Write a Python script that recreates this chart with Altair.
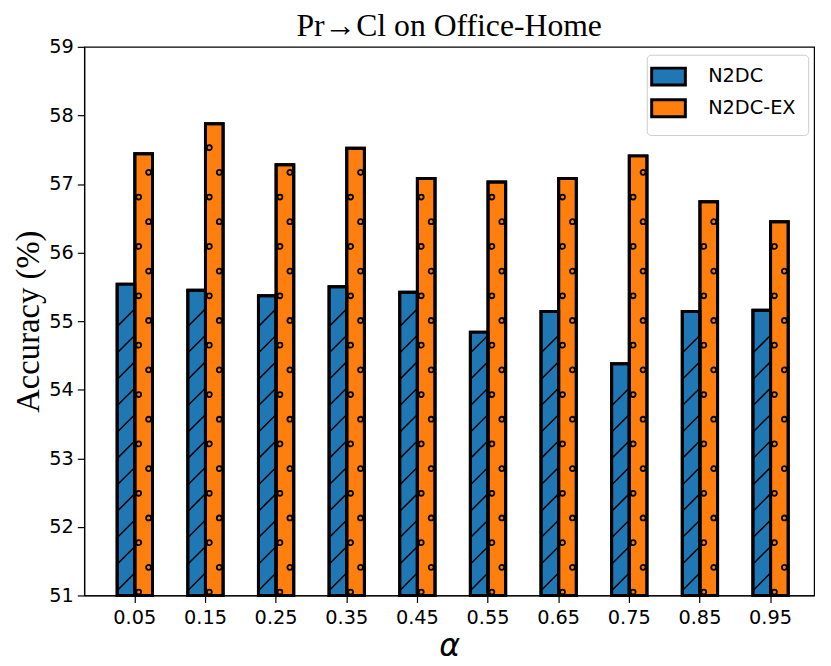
import altair as alt
import pandas as pd

alphas = ["0.05", "0.15", "0.25", "0.35", "0.45", "0.55", "0.65", "0.75", "0.85", "0.95"]
n2dc = [55.54, 55.45, 55.37, 55.50, 55.42, 54.84, 55.14, 54.38, 55.14, 55.16]
n2dc_ex = [57.44, 57.88, 57.28, 57.52, 57.08, 57.03, 57.08, 57.41, 56.74, 56.45]
series = ["N2DC", "N2DC-EX"]
colors = ["#1f77b4", "#ff7f0e"]
y_min, y_max = 51, 59

rows = []
for a, v1, v2 in zip(alphas, n2dc, n2dc_ex):
    rows.append({"alpha": a, "series": "N2DC", "value": v1, "base": y_min})
    rows.append({"alpha": a, "series": "N2DC-EX", "value": v2, "base": y_min})
df = pd.DataFrame(rows)

# decorative hatch positions derived from the bar values
hatch_rows = []
for r in rows:
    if r["series"] == "N2DC":
        k = 0
        while True:
            c = y_min + 0.2 + k * 0.385
            if c + 0.13 > r["value"]:
                break
            hatch_rows.append({"alpha": r["alpha"], "series": r["series"], "pos": c, "kind": "slash"})
            k += 1
    else:
        k = 0
        while True:
            c = y_min + 0.05 + k * 0.36
            if c + 0.03 > r["value"]:
                break
            hatch_rows.append({"alpha": r["alpha"], "series": r["series"], "pos": c,
                               "kind": "dotL" if k % 2 == 0 else "dotR"})
            k += 1
hdf = pd.DataFrame(hatch_rows)

x_enc = alt.X("alpha:N", sort=alphas,
              scale=alt.Scale(paddingInner=0.5, paddingOuter=0.416, align=0.56),
              axis=alt.Axis(title="α", labelAngle=0))
xo_enc = alt.XOffset("series:N", sort=series,
                     scale=alt.Scale(domain=series, paddingInner=0, paddingOuter=0))
y_scale = alt.Scale(domain=[y_min, y_max], nice=False, zero=False)

bars = alt.Chart(df).mark_bar(stroke="black", strokeWidth=3, opacity=1).encode(
    x=x_enc,
    xOffset=xo_enc,
    y=alt.Y("value:Q", scale=y_scale,
            axis=alt.Axis(title="Accuracy (%)", values=list(range(51, 60)), format="d")),
    y2="base:Q",
    fill=alt.Fill("series:N", sort=series,
                  scale=alt.Scale(domain=series, range=colors),
                  legend=alt.Legend(title=None, orient="none", legendX=568, legendY=8,
                                    symbolType="M -2 -1 L 2 -1 L 2 1 L -2 1 Z",
                                    symbolSize=289, symbolStrokeColor="black",
                                    symbolStrokeWidth=3, symbolOpacity=1,
                                    labelFontSize=19.5, labelFont="DejaVu Sans",
                                    labelColor="black", labelOffset=30,
                                    rowPadding=2, padding=12,
                                    strokeColor="#cccccc", cornerRadius=4,
                                    fillColor="white")),
)

slash = alt.Chart(hdf).transform_filter(alt.datum.kind == "slash").mark_point(
    shape="M -9 9 L 9 -9", size=4, filled=False, stroke="black", strokeWidth=1.5,
    opacity=1, clip=True
).encode(x=x_enc, xOffset=xo_enc, y=alt.Y("pos:Q", scale=y_scale))

dotl = alt.Chart(hdf).transform_filter(alt.datum.kind == "dotL").mark_point(
    shape="M -7.5 0 A 2.5 2.5 0 1 0 -2.5 0 A 2.5 2.5 0 1 0 -7.5 0 Z", size=4, filled=False,
    stroke="black", strokeWidth=1.8, opacity=1
).encode(x=x_enc, xOffset=xo_enc, y=alt.Y("pos:Q", scale=y_scale))

dotr = alt.Chart(hdf).transform_filter(alt.datum.kind == "dotR").mark_point(
    shape="M 2.5 0 A 2.5 2.5 0 1 0 7.5 0 A 2.5 2.5 0 1 0 2.5 0 Z", size=4, filled=False,
    stroke="black", strokeWidth=1.8, opacity=1
).encode(x=x_enc, xOffset=xo_enc, y=alt.Y("pos:Q", scale=y_scale))

outline = alt.Chart(df).mark_bar(stroke="black", strokeWidth=3, fillOpacity=0).encode(
    x=x_enc, xOffset=xo_enc, y=alt.Y("value:Q", scale=y_scale), y2="base:Q",
)

chart = alt.layer(bars, slash, dotl, dotr, outline).properties(
    width=737, height=554,
    title=alt.Title("Pr→Cl on Office-Home", font="Liberation Serif", fontSize=32,
                    fontWeight="normal", color="black", offset=0, dy=6),
    autosize=alt.AutoSizeParams(type="none"),
    padding={"left": 77, "top": 36, "right": 9, "bottom": 66},
).configure_view(stroke="black", strokeWidth=1.2).configure_axis(
    domainColor="black", domainWidth=1.2, tickColor="black", tickWidth=1.2,
    tickSize=7, labelFont="DejaVu Sans", labelFontSize=19.5, labelColor="black",
    grid=False,
).configure_axisX(
    titleFont="DejaVu Sans", titleFontSize=32, titleFontStyle="italic",
    titleFontWeight="normal", titleColor="black", titlePadding=4, labelPadding=6,
).configure_axisY(
    titleFont="Liberation Serif", titleFontSize=33, titleFontWeight="normal",
    titleColor="black", titlePadding=3, labelPadding=4,
)

chart.save("out.html", embed_options={"renderer": "svg", "actions": False})
